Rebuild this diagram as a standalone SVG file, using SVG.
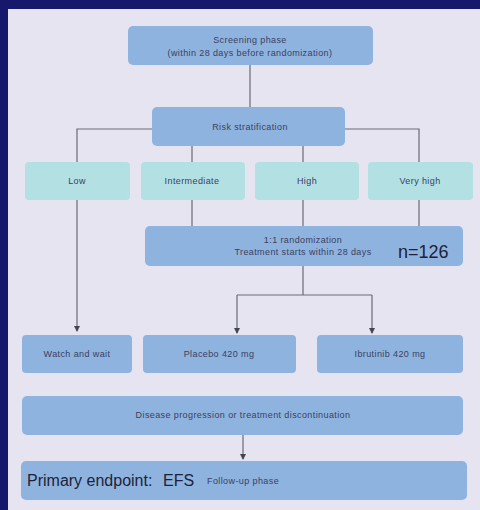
<svg xmlns="http://www.w3.org/2000/svg" width="480" height="510" viewBox="0 0 480 510">
<defs>
<style>
.b{fill:#8fb3df}
.c{fill:#b3e1e3}
.t{font-family:"Liberation Sans",Arial,sans-serif;font-size:9px;letter-spacing:0.4px;fill:#3b4060;text-anchor:middle}
.big{font-family:"Liberation Sans",Arial,sans-serif;fill:#1e2238}
.ln{stroke:#6a6c78;stroke-width:1.2;fill:none}
</style>
<marker id="ah" viewBox="0 0 6 6" refX="5" refY="3" markerWidth="5" markerHeight="5" orient="auto"><path d="M0,0L6,3L0,6z" fill="#44464f"/></marker>
</defs>
<rect width="480" height="510" fill="#15186b"/>
<rect x="8" y="9" width="472" height="501" fill="#e6e4f0"/>
<g id="connectors">
<path class="ln" d="M250,65V107"/>
<path class="ln" d="M152,129H77V162M345,129H419V162M192,146V162M303,146V162"/>
<path class="ln" d="M77,200V331" marker-end="url(#ah)"/>
<path class="ln" d="M192,200V226M303,200V226M419,200V226"/>
<path class="ln" d="M303,266V295M237,295H372"/>
<path class="ln" d="M237,295V333" marker-end="url(#ah)"/>
<path class="ln" d="M372,295V333" marker-end="url(#ah)"/>
<path class="ln" d="M243,435V459" marker-end="url(#ah)"/>
</g>
<g id="screening"><rect class="b" x="128" y="26" width="245" height="39" rx="5"/><text class="t" x="250" y="43">Screening phase</text><text class="t" x="250" y="56">(within 28 days before randomization)</text></g>
<g id="risk"><rect class="b" x="152" y="107" width="193" height="39" rx="5"/><text class="t" x="250" y="130">Risk stratification</text></g>
<g id="low"><rect class="c" x="25" y="162" width="105" height="38" rx="4"/><text class="t" x="77" y="184">Low</text></g>
<g id="intermediate"><rect class="c" x="141" y="162" width="104" height="38" rx="4"/><text class="t" x="192" y="184">Intermediate</text></g>
<g id="high"><rect class="c" x="255" y="162" width="104" height="38" rx="4"/><text class="t" x="307" y="184">High</text></g>
<g id="veryhigh"><rect class="c" x="368" y="162" width="105" height="38" rx="4"/><text class="t" x="420" y="184">Very high</text></g>
<g id="randomization"><rect class="b" x="145" y="226" width="318" height="40" rx="5"/><text class="t" x="303" y="243">1:1 randomization</text><text class="t" x="303" y="255">Treatment starts within 28 days</text><text class="big" x="398" y="258" font-size="18">n=126</text></g>
<g id="watch"><rect class="b" x="22" y="335" width="110" height="38" rx="4"/><text class="t" x="77" y="357">Watch and wait</text></g>
<g id="placebo"><rect class="b" x="143" y="335" width="153" height="38" rx="4"/><text class="t" x="219" y="357">Placebo 420 mg</text></g>
<g id="ibrutinib"><rect class="b" x="317" y="335" width="146" height="38" rx="4"/><text class="t" x="390" y="357">Ibrutinib 420 mg</text></g>
<g id="progression"><rect class="b" x="22" y="396" width="441" height="39" rx="5"/><text class="t" x="243" y="418">Disease progression or treatment discontinuation</text></g>
<g id="endpoint"><rect class="b" x="21" y="461" width="446" height="39" rx="5"/><text class="big" x="27" y="486" font-size="16">Primary endpoint:</text><text class="big" x="163" y="486" font-size="16">EFS</text><text class="t" x="207" y="484" style="text-anchor:start">Follow-up phase</text></g>
</svg>
